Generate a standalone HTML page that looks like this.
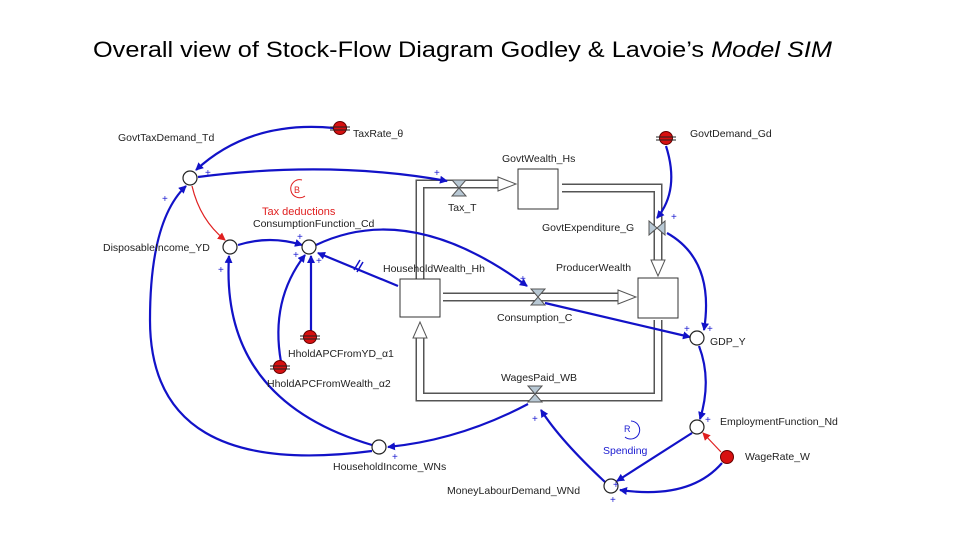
<!DOCTYPE html>
<html><head><meta charset="utf-8"><style>
body{margin:0;background:#fff}
svg{display:block}
text{font-family:"Liberation Sans",sans-serif}
.l{font-size:10.5px;fill:#222}
.p{font-size:10px;fill:#1a1ad0}
.c{fill:none;stroke:#1212c8;stroke-width:2.2}
.po{fill:none;stroke:#555;stroke-width:9}
.pi{fill:none;stroke:#fff;stroke-width:6}
</style></head><body>
<svg width="960" height="540" viewBox="0 0 960 540">
<defs>
<marker id="a" markerWidth="8" markerHeight="8" refX="7" refY="4" orient="auto" markerUnits="userSpaceOnUse"><path d="M0,0 L8,4 L0,8 z" fill="#1212c8"/></marker>
<marker id="r" markerWidth="8" markerHeight="8" refX="7" refY="4" orient="auto" markerUnits="userSpaceOnUse"><path d="M0,0 L8,4 L0,8 z" fill="#e02020"/></marker>
</defs>
<text x="93" y="57" font-size="22" textLength="739" lengthAdjust="spacingAndGlyphs">Overall view of Stock-Flow Diagram Godley &amp; Lavoie’s <tspan font-style="italic">Model SIM</tspan></text>

<!-- pipes -->
<path class="po" d="M420,279 V184 H500"/><path class="pi" d="M420,279 V184 H500"/>
<path d="M498,177 L516,184 L498,191 z" fill="#fff" stroke="#555"/>
<path class="po" d="M562,188 H658 V262"/><path class="pi" d="M562,188 H658 V262"/>
<path d="M651,260 L658,276 L665,260 z" fill="#fff" stroke="#555"/>
<path class="po" d="M443,297 H620"/><path class="pi" d="M443,297 H620"/>
<path d="M618,290 L636,297 L618,304 z" fill="#fff" stroke="#555"/>
<path class="po" d="M658,320 V397 H420 V336"/><path class="pi" d="M658,320 V397 H420 V336"/>
<path d="M413,338 L420,322 L427,338 z" fill="#fff" stroke="#555"/>

<!-- stocks -->
<rect x="400" y="279" width="40" height="38" fill="#fff" stroke="#333"/>
<rect x="518" y="169" width="40" height="40" fill="#fff" stroke="#333"/>
<rect x="638" y="278" width="40" height="40" fill="#fff" stroke="#333"/>

<!-- valves -->
<g fill="#b8c8d4" stroke="#555">
<path d="M452,180 L466,180 L452,196 L466,196 z"/>
<path d="M531,289 L545,289 L531,305 L545,305 z"/>
<path d="M528,386 L542,386 L528,402 L542,402 z"/>
<path d="M649,221 L649,235 L665,221 L665,235 z"/>
</g>

<!-- connectors -->
<path class="c" d="M334,128 Q250,120 196,170" marker-end="url(#a)"/>
<path class="c" d="M198,177 Q330,160 447,181" marker-end="url(#a)"/>
<path class="r" fill="none" stroke="#e02020" stroke-width="1.2" d="M192,186 Q200,220 225,240" marker-end="url(#r)"/>
<path class="c" d="M238,245 Q270,235 302,245" marker-end="url(#a)"/>
<path class="c" d="M316,245 Q410,200 527,286" marker-end="url(#a)"/>
<path class="c" d="M398,286 L318,253" marker-end="url(#a)"/>
<path d="M354,270 L360,260 M357,272 L363,262" stroke="#1212c8" stroke-width="1.5"/>
<path class="c" d="M311,332 V256" marker-end="url(#a)"/>
<path class="c" d="M281,362 Q270,300 305,255" marker-end="url(#a)"/>
<path class="c" d="M372,445 Q220,400 229,256" marker-end="url(#a)"/>
<path class="c" d="M372,451 Q150,480 150,320 Q150,220 186,186" marker-end="url(#a)"/>
<path class="c" d="M528,404 Q460,440 388,447" marker-end="url(#a)"/>
<path class="c" d="M545,303 L690,337" marker-end="url(#a)"/>
<path class="c" d="M667,233 Q715,260 704,330" marker-end="url(#a)"/>
<path class="c" d="M666,146 Q680,190 657,218" marker-end="url(#a)"/>
<path class="c" d="M699,346 Q712,380 700,419" marker-end="url(#a)"/>
<path class="c" d="M692,433 Q650,460 617,481" marker-end="url(#a)"/>
<path class="c" d="M605,482 Q560,440 541,410" marker-end="url(#a)"/>
<path class="c" d="M722,463 Q690,500 620,490" marker-end="url(#a)"/>
<path fill="none" stroke="#e02020" stroke-width="1.2" d="M721,452 L703,433" marker-end="url(#r)"/>

<!-- aux circles -->
<g fill="#fff" stroke="#222" stroke-width="1.2">
<circle cx="190" cy="178" r="7"/><circle cx="230" cy="247" r="7"/>
<circle cx="309" cy="247" r="7"/><circle cx="697" cy="338" r="7"/>
<circle cx="697" cy="427" r="7"/><circle cx="611" cy="486" r="7"/>
<circle cx="379" cy="447" r="7"/>
</g>
<!-- constants -->
<g fill="#d81010" stroke="#600" stroke-width="1">
<circle cx="340" cy="128" r="6.5"/><circle cx="666" cy="138" r="6.5"/>
<circle cx="310" cy="337" r="6.5"/><circle cx="280" cy="367" r="6.5"/>
<circle cx="727" cy="457" r="6.5"/>
</g>
<g stroke="#222" stroke-width="1">
<path d="M330,127 H350 M330,130 H350"/><path d="M656,137 H676 M656,140 H676"/>
<path d="M300,336 H320 M300,339 H320"/><path d="M270,366 H290 M270,369 H290"/>
</g>

<!-- loops -->
<path d="M302,180 A9,9 0 1,0 305,196" fill="none" stroke="#e02020" stroke-width="1"/>
<text x="294" y="193" font-size="9" fill="#e02020">B</text>
<path d="M631,421 A9,9 0 1,1 625,437" fill="none" stroke="#1a1ad0" stroke-width="1"/>
<text x="624" y="432" font-size="9" fill="#1a1ad0">R</text>

<!-- labels -->
<text class="l" x="118" y="141">GovtTaxDemand_Td</text>
<text class="l" x="353" y="137">TaxRate_θ</text>
<text class="l" x="502" y="162">GovtWealth_Hs</text>
<text class="l" x="690" y="137">GovtDemand_Gd</text>
<text x="262" y="215" font-size="11" fill="#e02020">Tax deductions</text>
<text class="l" x="253" y="227">ConsumptionFunction_Cd</text>
<text class="l" x="448" y="211">Tax_T</text>
<text class="l" x="542" y="231">GovtExpenditure_G</text>
<text class="l" x="103" y="251">DisposableIncome_YD</text>
<text class="l" x="383" y="272">HouseholdWealth_Hh</text>
<text class="l" x="556" y="271">ProducerWealth</text>
<text class="l" x="497" y="321">Consumption_C</text>
<text class="l" x="710" y="345">GDP_Y</text>
<text class="l" x="288" y="357">HholdAPCFromYD_α1</text>
<text class="l" x="501" y="381">WagesPaid_WB</text>
<text class="l" x="267" y="387">HholdAPCFromWealth_α2</text>
<text class="l" x="720" y="425">EmploymentFunction_Nd</text>
<text x="603" y="454" font-size="10.5" fill="#1a1ad0">Spending</text>
<text class="l" x="745" y="460">WageRate_W</text>
<text class="l" x="333" y="470">HouseholdIncome_WNs</text>
<text class="l" x="447" y="494">MoneyLabourDemand_WNd</text>

<!-- polarity -->
<g class="p">
<text x="162" y="202">+</text><text x="205" y="176">+</text><text x="434" y="176">+</text>
<text x="218" y="273">+</text><text x="297" y="240">+</text><text x="293" y="258">+</text>
<text x="316" y="264">+</text><text x="520" y="282">+</text><text x="671" y="220">+</text>
<text x="684" y="332">+</text><text x="707" y="332">+</text><text x="705" y="423">+</text>
<text x="532" y="422">+</text><text x="613" y="488">+</text><text x="610" y="503">+</text>
<text x="392" y="460">+</text>
</g>
</svg>
</body></html>
